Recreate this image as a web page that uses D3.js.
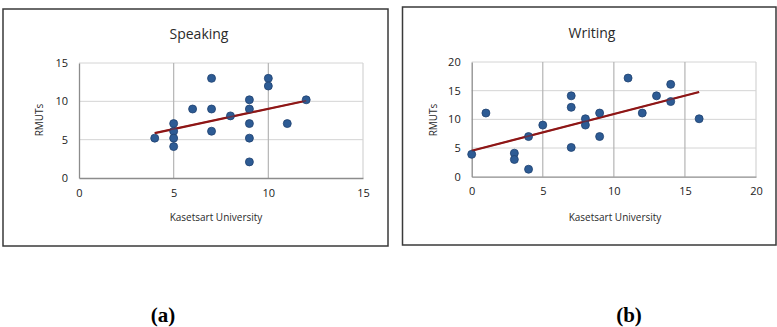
<!DOCTYPE html>
<html>
<head>
<meta charset="utf-8">
<script src="https://cdn.jsdelivr.net/npm/d3@7/dist/d3.min.js"></script>
<style>
  html, body { margin: 0; padding: 0; background: #fff; }
  svg { display: block; }
</style>
</head>
<body>
<svg id="fig" width="777" height="327"></svg>
<script>
// Speaking scores: Kasetsart University (x) vs RMUTs (y)
const speakingKU    = [4, 5, 5, 5, 5, 6, 7, 7, 7, 8, 9, 9, 9, 9, 9, 10, 10, 11, 12];
const speakingRMUTs = [5.2, 7.1, 6.1, 5.2, 4.1, 9, 13, 9, 6.1, 8.1, 10.2, 9, 7.1, 5.2, 2.1, 13, 12, 7.1, 10.2];

// Writing scores: Kasetsart University (x) vs RMUTs (y)
const writingKU    = [0, 1, 3, 3, 4, 4, 5, 7, 7, 7, 8, 8, 9, 9, 11, 12, 13, 14, 14, 16];
const writingRMUTs = [3.9, 11.1, 4.1, 3, 7, 1.3, 9, 14.1, 12.1, 5.1, 10.1, 9, 11.1, 7, 17.2, 11.1, 14.1, 16.1, 13.1, 10.1];

const speakingTicks = [0, 5, 10, 15];
const writingTicks  = [0, 5, 10, 15, 20];

const panelLabels = ["(a)", "(b)"];

const svg = d3.select("#fig");
const chartFont = "'Open Sans', 'Liberation Sans', sans-serif";

// ordinary least squares fit, as a spreadsheet linear trendline
function linearFit(xs, ys) {
  const mx = d3.mean(xs), my = d3.mean(ys);
  let sxy = 0, sxx = 0;
  xs.forEach((x, i) => { sxy += (x - mx) * (ys[i] - my); sxx += (x - mx) * (x - mx); });
  const slope = sxy / sxx;
  return { slope, intercept: my - slope * mx };
}

function drawPanel(cfg) {
  const g = svg.append("g");

  // chart frame
  g.append("rect")
    .attr("x", cfg.frame[0]).attr("y", cfg.frame[1])
    .attr("width", cfg.frame[2]).attr("height", cfg.frame[3])
    .attr("fill", "#fff").attr("stroke", "#3a3a3a").attr("stroke-width", 1.5);

  const x = d3.scaleLinear().domain(d3.extent(cfg.xTicks)).range([cfg.plot.left, cfg.plot.right]);
  const y = d3.scaleLinear().domain(d3.extent(cfg.yTicks)).range([cfg.plot.bottom, cfg.plot.top]);

  // horizontal gridlines
  g.append("g").selectAll("line").data(cfg.yTicks.slice(1)).join("line")
    .attr("x1", cfg.plot.left).attr("x2", cfg.plot.right)
    .attr("y1", d => y(d)).attr("y2", d => y(d))
    .attr("stroke", "#d4d4d4").attr("stroke-width", 1);

  // vertical gridlines
  g.append("g").selectAll("line").data(cfg.xTicks.slice(1)).join("line")
    .attr("x1", d => x(d)).attr("x2", d => x(d))
    .attr("y1", cfg.plot.top).attr("y2", cfg.plot.bottom)
    .attr("stroke", (d, i) => i === cfg.xTicks.length - 2 ? "#d4d4d4" : "#b4b4b4")
    .attr("stroke-width", 1.2);

  // axes
  const xAxis = d3.axisBottom(x).tickValues(cfg.xTicks).tickSize(0).tickPadding(11);
  const yAxis = d3.axisLeft(y).tickValues(cfg.yTicks).tickSize(0).tickPadding(11);

  const gx = g.append("g").attr("transform", `translate(0,${cfg.plot.bottom})`).call(xAxis);
  const gy = g.append("g").attr("transform", `translate(${cfg.plot.left},0)`).call(yAxis);
  [gx, gy].forEach(a => {
    a.select(".domain").attr("stroke", "#8c8c8c").attr("stroke-width", 1.3);
    a.selectAll("text").attr("font-family", chartFont).attr("font-size", 11).attr("fill", "#222");
  });

  // trendline across the observed x range
  const fit = linearFit(cfg.xs, cfg.ys);
  const [x0, x1] = d3.extent(cfg.xs);
  g.append("line")
    .attr("x1", x(x0)).attr("y1", y(fit.intercept + fit.slope * x0))
    .attr("x2", x(x1)).attr("y2", y(fit.intercept + fit.slope * x1))
    .attr("stroke", "#8e1616").attr("stroke-width", 2.2);

  // observations
  g.append("g").selectAll("circle").data(cfg.xs.map((v, i) => [v, cfg.ys[i]])).join("circle")
    .attr("cx", d => x(d[0])).attr("cy", d => y(d[1])).attr("r", 4)
    .attr("fill", "#2d5b94").attr("stroke", "#1f4170").attr("stroke-width", 0.8);

  // trendline drawn over the markers too, as it appears on top of them
  g.append("line")
    .attr("x1", x(x0)).attr("y1", y(fit.intercept + fit.slope * x0))
    .attr("x2", x(x1)).attr("y2", y(fit.intercept + fit.slope * x1))
    .attr("stroke", "#8e1616").attr("stroke-width", 1.6).attr("opacity", 0.55);

  // titles
  g.append("text").attr("x", cfg.titlePos[0]).attr("y", cfg.titlePos[1])
    .attr("text-anchor", "middle").attr("dominant-baseline", "central")
    .attr("font-family", chartFont).attr("font-size", 14).attr("fill", "#2a2a2a")
    .text(cfg.title);

  g.append("text").attr("x", cfg.xTitlePos[0]).attr("y", cfg.xTitlePos[1])
    .attr("text-anchor", "middle").attr("dominant-baseline", "central")
    .attr("font-family", chartFont).attr("font-size", 10).attr("fill", "#2a2a2a")
    .text("Kasetsart University");

  g.append("text")
    .attr("transform", `translate(${cfg.yTitlePos[0]},${cfg.yTitlePos[1]}) rotate(-90)`)
    .attr("text-anchor", "middle").attr("dominant-baseline", "central")
    .attr("font-family", chartFont).attr("font-size", 10).attr("fill", "#2a2a2a")
    .text("RMUTs");

  // panel letter beneath the chart
  svg.append("text").attr("x", cfg.labelPos[0]).attr("y", cfg.labelPos[1])
    .attr("text-anchor", "middle")
    .attr("font-family", "'Liberation Serif', 'Times New Roman', serif")
    .attr("font-weight", "bold").attr("font-size", 21).attr("fill", "#000")
    .text(cfg.label);
}

drawPanel({
  frame: [3, 9, 385, 237],
  plot: { left: 79, right: 363, top: 63, bottom: 178 },
  xTicks: speakingTicks, yTicks: speakingTicks,
  xs: speakingKU, ys: speakingRMUTs,
  title: "Speaking", titlePos: [199, 33],
  xTitlePos: [216, 217], yTitlePos: [39, 120],
  label: panelLabels[0], labelPos: [163, 322]
});

drawPanel({
  frame: [402.5, 7, 373.5, 238],
  plot: { left: 471.7, right: 756, top: 62, bottom: 176.7 },
  xTicks: writingTicks, yTicks: writingTicks,
  xs: writingKU, ys: writingRMUTs,
  title: "Writing", titlePos: [592, 32],
  xTitlePos: [615, 217], yTitlePos: [433, 120],
  label: panelLabels[1], labelPos: [629, 322]
});
</script>
</body>
</html>
